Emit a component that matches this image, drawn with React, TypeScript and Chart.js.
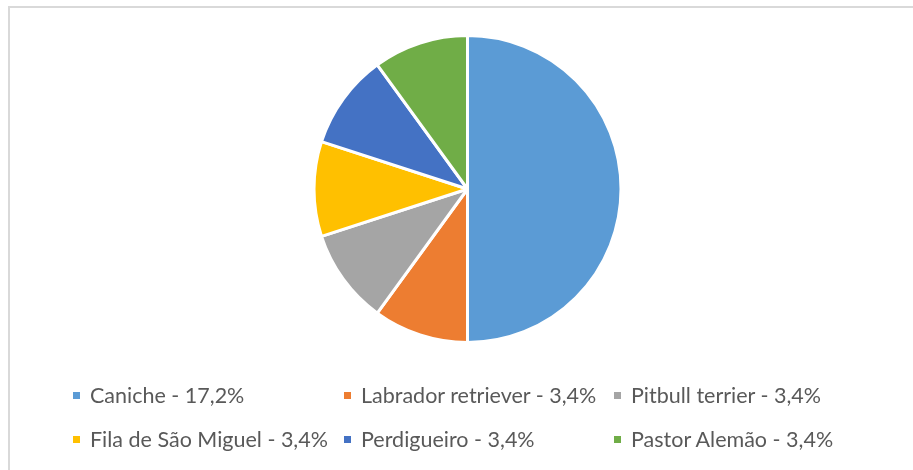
import React, { useEffect, useRef } from "react";
import { Chart, registerables } from "chart.js";

Chart.register(...registerables);

const breeds = [
  "Caniche",
  "Labrador retriever",
  "Pitbull terrier",
  "Fila de São Miguel",
  "Perdigueiro",
  "Pastor Alemão",
];
const counts = [5, 1, 1, 1, 1, 1];
const percentLabels = ["17,2%", "3,4%", "3,4%", "3,4%", "3,4%", "3,4%"];
const colors = ["#5B9BD5", "#ED7D31", "#A5A5A5", "#FFC000", "#4472C4", "#70AD47"];

const legendPos = [
  { left: 73, top: 395 },
  { left: 344, top: 395 },
  { left: 614, top: 395 },
  { left: 73, top: 439 },
  { left: 344, top: 439 },
  { left: 614, top: 439 },
];

export default function App() {
  const ref = useRef<HTMLCanvasElement | null>(null);

  useEffect(() => {
    if (!ref.current) return;
    const chart = new Chart(ref.current, {
      type: "pie",
      data: {
        labels: breeds,
        datasets: [
          {
            data: counts,
            backgroundColor: colors,
            borderColor: "#ffffff",
            borderWidth: 3,
          },
        ],
      },
      options: {
        responsive: false,
        animation: false,
        layout: { padding: { top: 34, bottom: 126, left: 312.5, right: 290.5 } },
        plugins: { legend: { display: false }, tooltip: { enabled: false } },
      },
    });
    return () => chart.destroy();
  }, []);

  return (
    <div style={{ position: "fixed", inset: 0, overflow: "hidden", background: "#fff" }}>
      <div
        style={{
          position: "absolute",
          left: 8,
          top: 6,
          width: 940,
          height: 500,
          border: "2px solid #d9d9d9",
          boxSizing: "border-box",
        }}
      />
      <canvas
        ref={ref}
        width={913}
        height={470}
        style={{ position: "absolute", left: 0, top: 0, width: 913, height: 470 }}
      />
      {breeds.map((b, i) => (
        <div
          key={b}
          style={{
            position: "absolute",
            left: legendPos[i].left,
            top: legendPos[i].top,
            transform: "translateY(-50%)",
            display: "flex",
            alignItems: "center",
            whiteSpace: "nowrap",
            fontFamily: "Lato, 'Open Sans', sans-serif",
            fontSize: 21.5,
            color: "#595959",
          }}
        >
          <span
            style={{
              display: "inline-block",
              width: 7,
              height: 7,
              background: colors[i],
              marginRight: 10,
            }}
          />
          <span>{`${b} - ${percentLabels[i]}`}</span>
        </div>
      ))}
    </div>
  );
}
